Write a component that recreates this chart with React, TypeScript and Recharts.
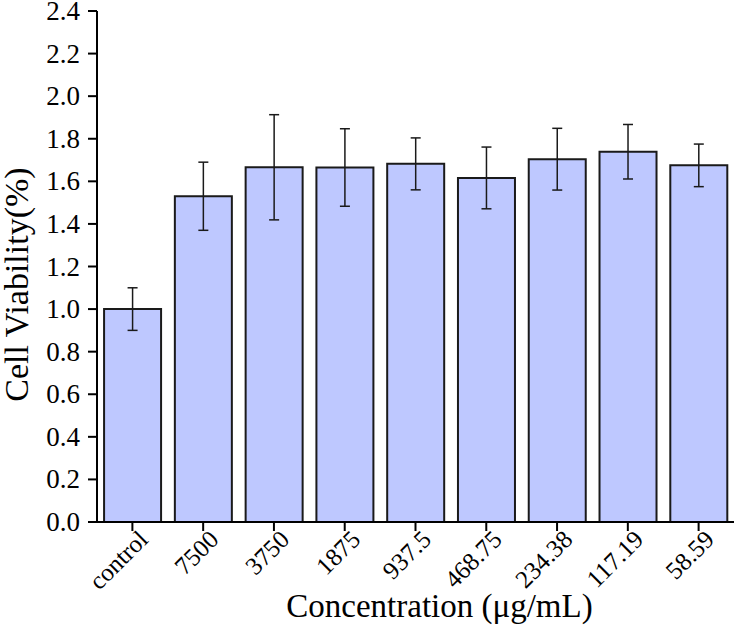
import React from 'react';
import { BarChart, Bar, XAxis, YAxis, ErrorBar, Label } from 'recharts';

const categories = ['control', '7500', '3750', '1875', '937.5', '468.75', '234.38', '117.19', '58.59'];
const viability = [1.0, 1.53, 1.666, 1.665, 1.682, 1.616, 1.704, 1.739, 1.675];
const errors = [0.1, 0.16, 0.247, 0.182, 0.122, 0.145, 0.145, 0.128, 0.1];
const yTicks = [0, 0.2, 0.4, 0.6, 0.8, 1.0, 1.2, 1.4, 1.6, 1.8, 2.0, 2.2, 2.4];

const data = categories.map((name, i) => ({ name, value: viability[i], err: errors[i] }));

const FONT = '"Liberation Serif", "Times New Roman", serif';

// rotated category labels, end anchored a bit right of the tick
const XTick = (props: any) => {
    const { x, y, payload } = props;
    const ax = x + 17;
    const ay = y + 8;
    return (
        <text
            x={ax}
            y={ay}
            transform={`rotate(-45, ${ax}, ${ay})`}
            textAnchor="end"
            style={{ fontSize: 25, fontFamily: FONT }}
            fill="#000"
        >
            {payload.value}
        </text>
    );
};

const YTick = (props: any) => {
    const { x, y, payload } = props;
    return (
        <text
            x={x}
            y={y}
            textAnchor="end"
            dominantBaseline="central"
            style={{ fontSize: 27, fontFamily: FONT }}
            fill="#000"
        >
            {Number(payload.value).toFixed(1)}
        </text>
    );
};

export default function App() {
    return (
        <div style={{ position: 'absolute', left: 0, top: 0, background: '#fff', fontFamily: FONT }}>
            <BarChart
                width={735}
                height={625}
                data={data}
                margin={{ top: 11, right: 1, left: 0, bottom: 0 }}
                barCategoryGap="10%"
            >
                <XAxis
                    dataKey="name"
                    height={103}
                    interval={0}
                    tick={<XTick />}
                    tickSize={9}
                    axisLine={{ stroke: '#000', strokeWidth: 2 }}
                    tickLine={{ stroke: '#000', strokeWidth: 2 }}
                >
                    <Label
                        content={(p: any) => {
                            const vb = p.viewBox;
                            return (
                                <text
                                    x={vb.x + vb.width / 2 + 24}
                                    y={vb.y + 95}
                                    textAnchor="middle"
                                    style={{ fontSize: 33, fontFamily: FONT }}
                                    fill="#000"
                                >
                                    Concentration (μg/mL)
                                </text>
                            );
                        }}
                    />
                </XAxis>
                <YAxis
                    width={97}
                    domain={[0, 2.4]}
                    ticks={yTicks}
                    interval={0}
                    tickSize={9}
                    tickMargin={8}
                    tick={<YTick />}
                    axisLine={{ stroke: '#000', strokeWidth: 2 }}
                    tickLine={{ stroke: '#000', strokeWidth: 2 }}
                >
                    <Label
                        content={(p: any) => {
                            const vb = p.viewBox;
                            const cx = vb.x + 16;
                            const cy = vb.y + vb.height / 2 + 18;
                            return (
                                <text
                                    x={cx}
                                    y={cy}
                                    transform={`rotate(-90, ${cx}, ${cy})`}
                                    textAnchor="middle"
                                    dominantBaseline="central"
                                    style={{ fontSize: 34, fontFamily: FONT }}
                                    fill="#000"
                                >
                                    Cell Viability(%)
                                </text>
                            );
                        }}
                    />
                </YAxis>
                <Bar dataKey="value" fill="#bec8ff" stroke="#1a1a1a" strokeWidth={2} isAnimationActive={false}>
                    <ErrorBar dataKey="err" width={5} stroke="#1a1a1a" strokeWidth={1.5} isAnimationActive={false} />
                </Bar>
            </BarChart>
        </div>
    );
}
